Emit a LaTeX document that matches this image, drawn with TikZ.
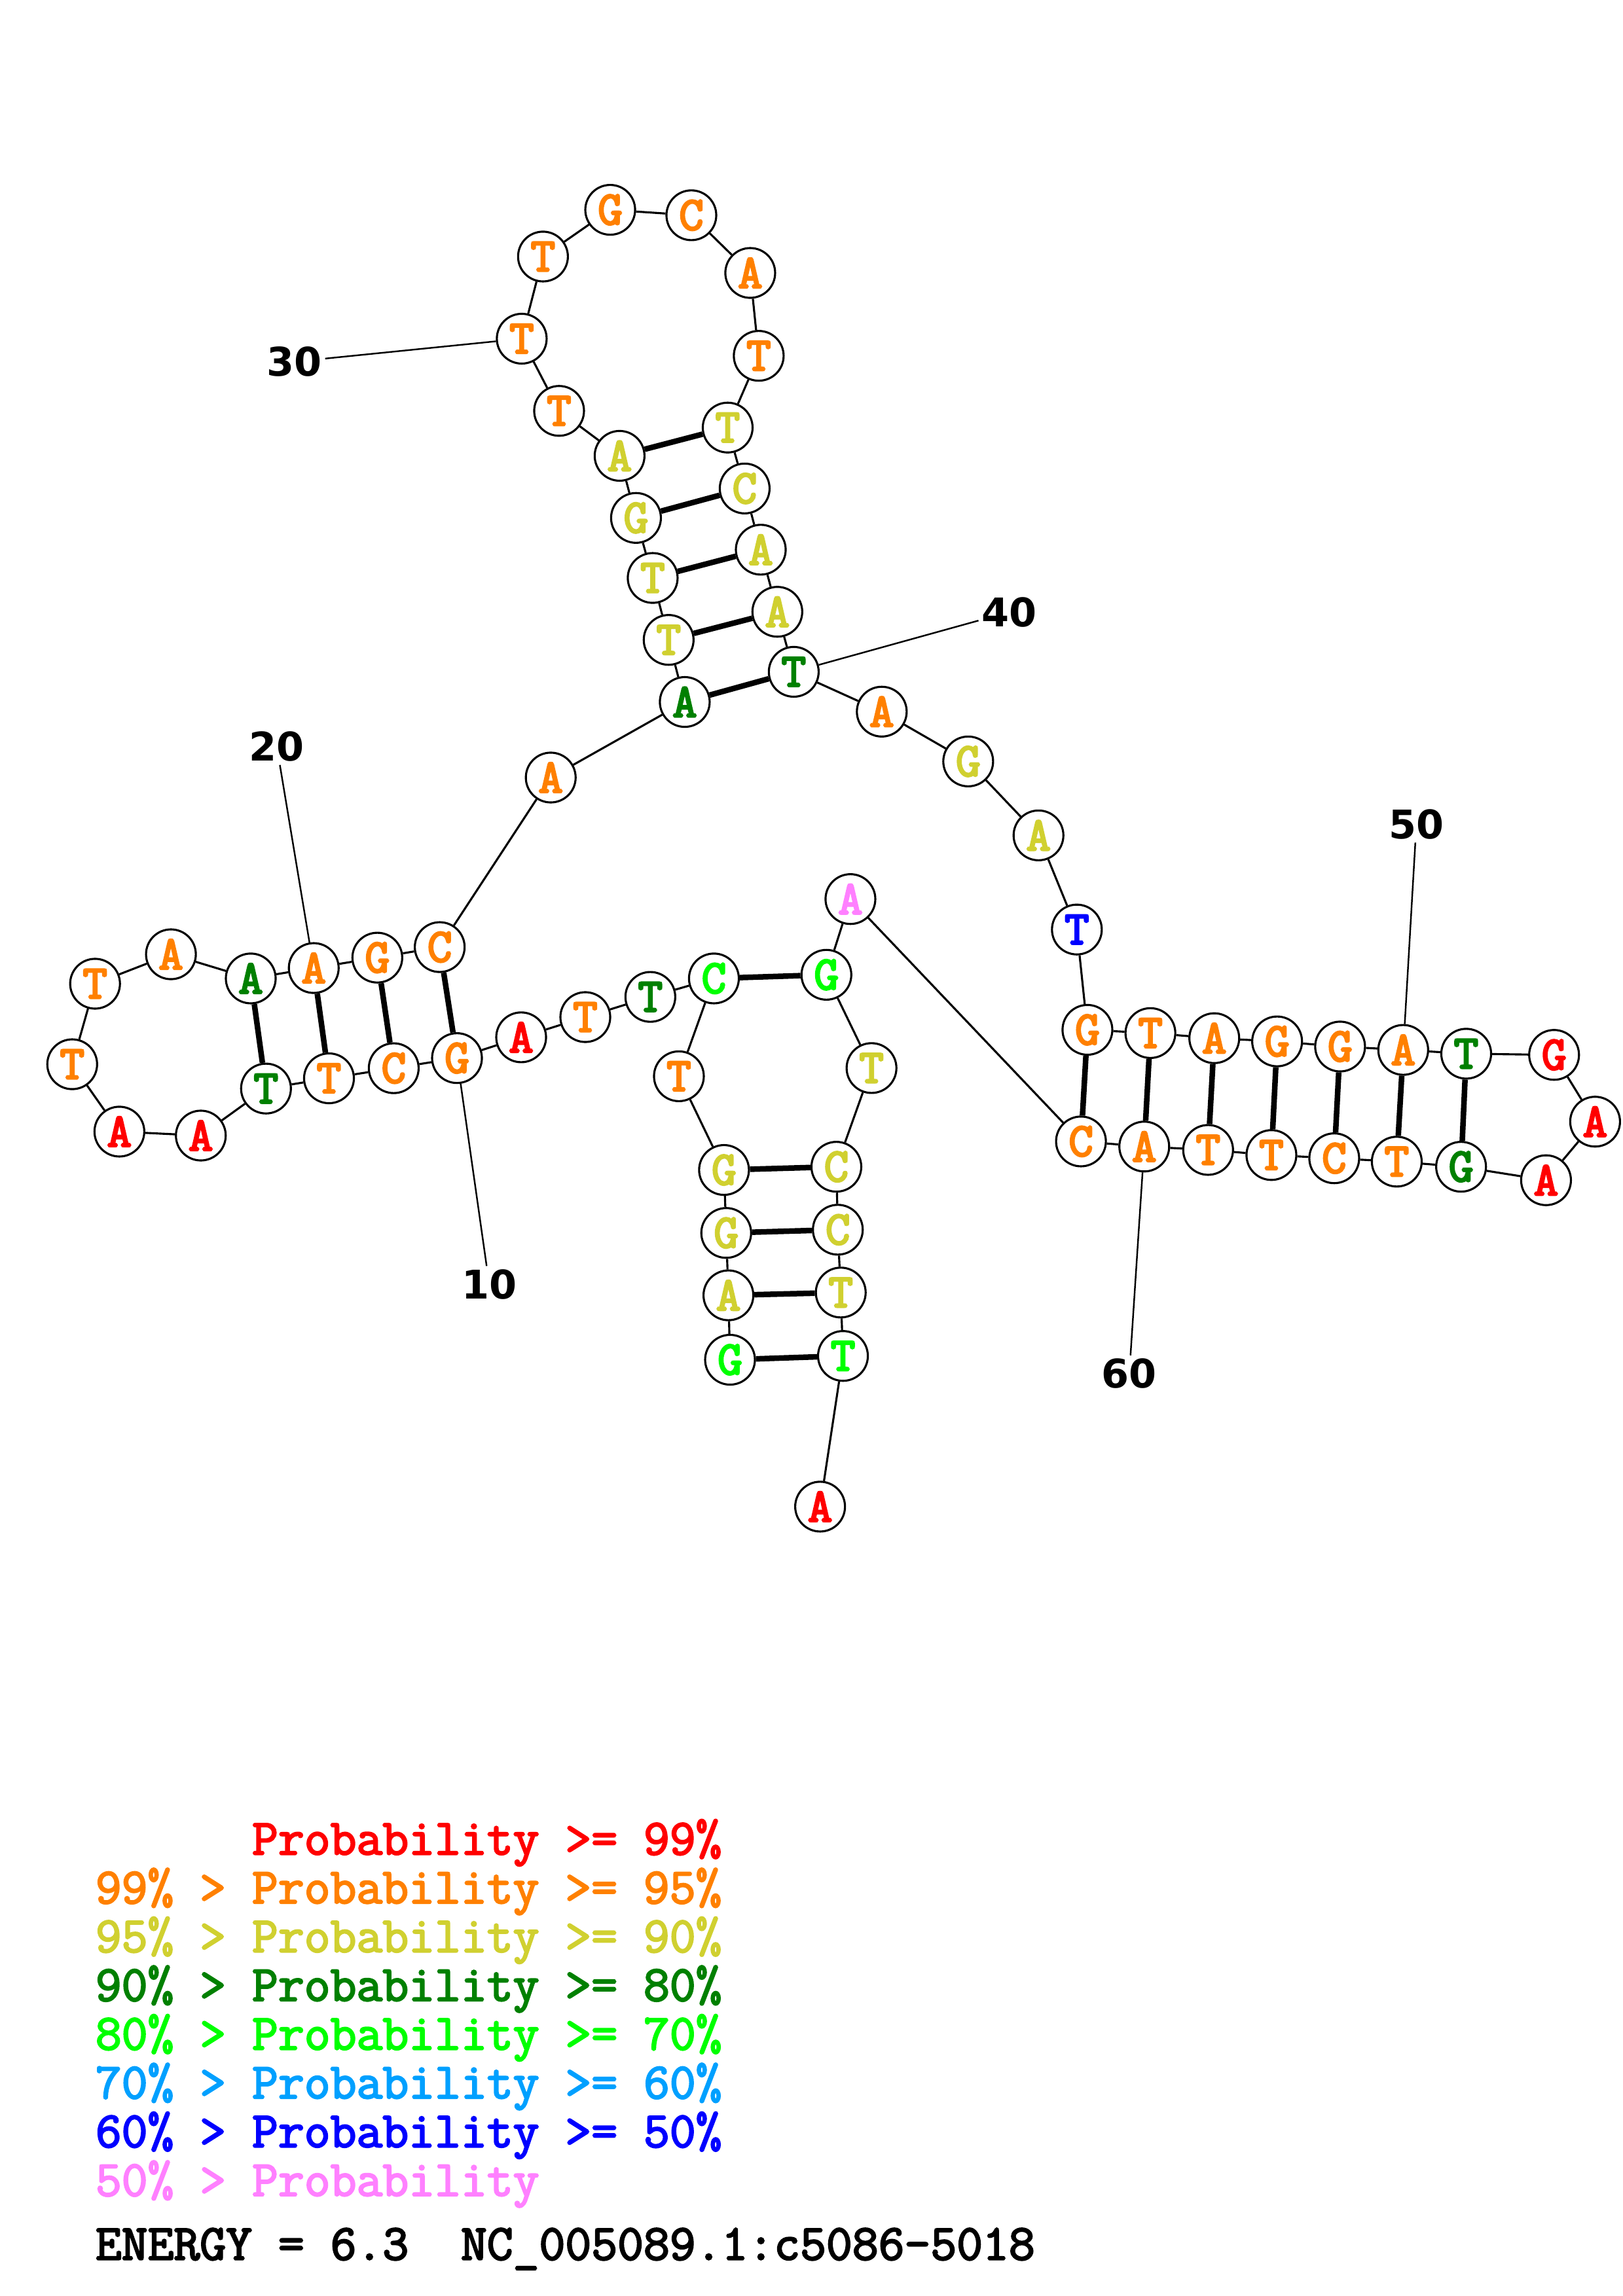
\documentclass[tikz,border=0pt]{standalone}
\usepackage{fontspec}
\newfontfamily\numfont{DejaVu Sans}
\newfontfamily\courfont{Latin Modern Mono}[FakeBold=3]
\newfontfamily\nuccour{Latin Modern Mono}[FakeBold=4]

\definecolor{pRed}{RGB}{255,0,0}
\definecolor{pOrange}{RGB}{255,128,0}
\definecolor{pYellow}{RGB}{208,208,48}
\definecolor{pDkGreen}{RGB}{0,128,0}
\definecolor{pGreen}{RGB}{0,255,0}
\definecolor{pSky}{RGB}{0,160,255}
\definecolor{pBlue}{RGB}{0,0,255}
\definecolor{pPink}{RGB}{255,128,255}

\newcommand{\nucfont}{\fontsize{32.5}{32.5}\selectfont\nuccour}
\newcommand{\legfont}{\fontsize{34.6}{35}\selectfont\courfont}
\newcommand{\numlabfont}{\fontsize{27}{27}\selectfont\numfont\bfseries}

\begin{document}
\begin{tikzpicture}[x=1pt, y=-1pt,
  nuc/.style={circle, draw, line width=1.4pt, fill=white, minimum size=34pt, inner sep=0pt, font=\nucfont},
  nred/.style={nuc, text=pRed},
  norange/.style={nuc, text=pOrange},
  nyellow/.style={nuc, text=pYellow},
  ndkgreen/.style={nuc, text=pDkGreen},
  ngreen/.style={nuc, text=pGreen},
  nblue/.style={nuc, text=pBlue},
  npink/.style={nuc, text=pPink},
  numlab/.style={font=\numlabfont, inner sep=2pt},
  leg/.style={anchor=base west, inner sep=0pt, font=\legfont},
  bb/.style={line width=1.4pt},
  pair/.style={line width=3.8pt},
  lead/.style={line width=1.1pt}]
\useasboundingbox (0,0) rectangle (1108,1568);

% bases, 5' to 3'
\node[ngreen] (b1) at (498.4,928.6) {G};
\node[nyellow] (b2) at (497.3,884.6) {A};
\node[nyellow] (b3) at (495.8,842) {G};
\node[nyellow] (b4) at (494.3,799) {G};
\node[norange] (b5) at (463.5,735) {T};
\node[ngreen] (b6) at (487.4,668.2) {C};
\node[ndkgreen] (b7) at (444,680.8) {T};
\node[norange] (b8) at (399.6,694.6) {T};
\node[nred] (b9) at (355.8,708.4) {A};
\node[norange] (b10) at (312,722.6) {G};
\node[norange] (b11) at (268.8,729.5) {C};
\node[norange] (b12) at (224.6,736.4) {T};
\node[ndkgreen] (b13) at (181.6,743.4) {T};
\node[nred] (b14) at (137.1,775.5) {A};
\node[nred] (b15) at (81.5,772.8) {A};
\node[norange] (b16) at (49.3,726.8) {T};
\node[norange] (b17) at (64.9,671.8) {T};
\node[norange] (b18) at (116.7,651.7) {A};
\node[ndkgreen] (b19) at (171.2,668.2) {A};
\node[norange] (b20) at (214.2,661.1) {A};
\node[norange] (b21) at (257.6,654) {G};
\node[norange] (b22) at (300.2,646.8) {C};
\node[norange] (b23) at (376,531) {A};
\node[ndkgreen] (b24) at (467.5,479.4) {A};
\node[nyellow] (b25) at (456.5,437) {T};
\node[nyellow] (b26) at (445.6,394.7) {T};
\node[nyellow] (b27) at (434.2,353.7) {G};
\node[nyellow] (b28) at (423,311.3) {A};
\node[norange] (b29) at (381.7,280.6) {T};
\node[norange] (b30) at (356.2,231.3) {T};
\node[norange] (b31) at (370.7,175.2) {T};
\node[norange] (b32) at (416.6,143.3) {G};
\node[norange] (b33) at (472,147) {C};
\node[norange] (b34) at (512.2,186.4) {A};
\node[norange] (b35) at (518,243) {T};
\node[nyellow] (b36) at (496.8,292) {T};
\node[nyellow] (b37) at (508.4,333.6) {C};
\node[nyellow] (b38) at (519.4,375.4) {A};
\node[nyellow] (b39) at (530.7,417.8) {A};
\node[ndkgreen] (b40) at (541.9,458.8) {T};
\node[norange] (b41) at (602,486) {A};
\node[nyellow] (b42) at (661,520) {G};
\node[nyellow] (b43) at (709,570.5) {A};
\node[nblue] (b44) at (735.2,634.8) {T};
\node[norange] (b45) at (742.4,703.3) {G};
\node[norange] (b46) at (785.4,705.5) {T};
\node[norange] (b47) at (829,709) {A};
\node[norange] (b48) at (871.9,711.2) {G};
\node[norange] (b49) at (914.9,714.7) {G};
\node[norange] (b50) at (958,717) {A};
\node[ndkgreen] (b51) at (1001,719.6) {T};
\node[nred] (b52) at (1061,720.4) {G};
\node[nred] (b53) at (1089,766) {A};
\node[nred] (b54) at (1055.5,806) {A};
\node[ndkgreen] (b55) at (997.5,796.8) {G};
\node[norange] (b56) at (953.6,793.3) {T};
\node[norange] (b57) at (910.9,791) {C};
\node[norange] (b58) at (868,788.8) {T};
\node[norange] (b59) at (824.8,785.3) {T};
\node[norange] (b60) at (781.2,783) {A};
\node[norange] (b61) at (738,779.5) {C};
\node[npink] (b62) at (580.6,614) {A};
\node[ngreen] (b63) at (564.2,665.7) {G};
\node[nyellow] (b64) at (595,729.4) {T};
\node[nyellow] (b65) at (571,796.8) {C};
\node[nyellow] (b66) at (572,839.8) {C};
\node[nyellow] (b67) at (574,882.7) {T};
\node[ngreen] (b68) at (575.5,926) {T};
\node[nred] (b69) at (559.9,1028.9) {A};

% position numbers
\node[numlab] (l10) at (334,877) {10};
\node[numlab] (l20) at (189,510) {20};
\node[numlab] (l30) at (201,247) {30};
\node[numlab] (l40) at (689,418) {40};
\node[numlab] (l50) at (967,563) {50};
\node[numlab] (l60) at (771,938) {60};

% backbone
\draw[bb] (b1) -- (b2) -- (b3) -- (b4) -- (b5) -- (b6) -- (b7) -- (b8) -- (b9) -- (b10)
  -- (b11) -- (b12) -- (b13) -- (b14) -- (b15) -- (b16) -- (b17) -- (b18) -- (b19) -- (b20)
  -- (b21) -- (b22) -- (b23) -- (b24) -- (b25) -- (b26) -- (b27) -- (b28) -- (b29) -- (b30)
  -- (b31) -- (b32) -- (b33) -- (b34) -- (b35) -- (b36) -- (b37) -- (b38) -- (b39) -- (b40)
  -- (b41) -- (b42) -- (b43) -- (b44) -- (b45) -- (b46) -- (b47) -- (b48) -- (b49) -- (b50)
  -- (b51) -- (b52) -- (b53) -- (b54) -- (b55) -- (b56) -- (b57) -- (b58) -- (b59) -- (b60)
  -- (b61) -- (b62) -- (b63) -- (b64) -- (b65) -- (b66) -- (b67) -- (b68) -- (b69);

% base pairs
\draw[pair] (b1) -- (b68);
\draw[pair] (b2) -- (b67);
\draw[pair] (b3) -- (b66);
\draw[pair] (b4) -- (b65);
\draw[pair] (b6) -- (b63);
\draw[pair] (b10) -- (b22);
\draw[pair] (b11) -- (b21);
\draw[pair] (b12) -- (b20);
\draw[pair] (b13) -- (b19);
\draw[pair] (b24) -- (b40);
\draw[pair] (b25) -- (b39);
\draw[pair] (b26) -- (b38);
\draw[pair] (b27) -- (b37);
\draw[pair] (b28) -- (b36);
\draw[pair] (b45) -- (b61);
\draw[pair] (b46) -- (b60);
\draw[pair] (b47) -- (b59);
\draw[pair] (b48) -- (b58);
\draw[pair] (b49) -- (b57);
\draw[pair] (b50) -- (b56);
\draw[pair] (b51) -- (b55);

% leaders to the numbers
\draw[lead] (b10) -- (l10);
\draw[lead] (b20) -- (l20);
\draw[lead] (b30) -- (l30);
\draw[lead] (b40) -- (l40);
\draw[lead] (b50) -- (l50);
\draw[lead] (b60) -- (l60);

% legend
\node[leg, text=pRed] (leg1) at (171.9,1266.5) {Probability >= 99\%};
\node[leg, text=pOrange] (leg2) at (65,1299.8) {99\% > Probability >= 95\%};
\node[leg, text=pYellow] (leg3) at (65,1333.1) {95\% > Probability >= 90\%};
\node[leg, text=pDkGreen] (leg4) at (65,1366.4) {90\% > Probability >= 80\%};
\node[leg, text=pGreen] (leg5) at (65,1399.7) {80\% > Probability >= 70\%};
\node[leg, text=pSky] (leg6) at (65,1433) {70\% > Probability >= 60\%};
\node[leg, text=pBlue] (leg7) at (65,1466.3) {60\% > Probability >= 50\%};
\node[leg, text=pPink] (leg8) at (65,1499.6) {50\% > Probability};
\node[leg] (energy) at (65,1543.2) {ENERGY = 6.3\ \ NC\_005089.1:c5086-5018};
\end{tikzpicture}
\end{document}
